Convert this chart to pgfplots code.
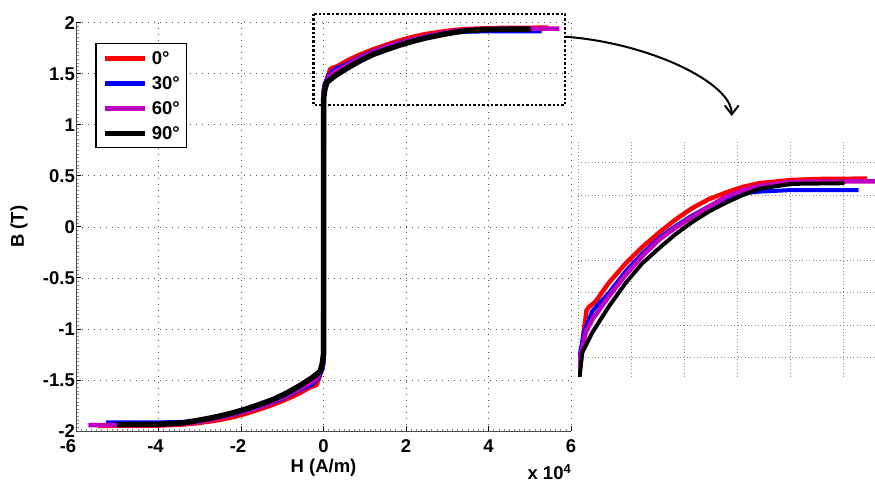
\documentclass[border=0pt]{standalone}
\usepackage{fontspec}
\setmainfont{Liberation Sans}
\usepackage{pgfplots}
\pgfplotsset{compat=1.18}
\usepackage{pgfplotstable}
\usetikzlibrary{arrows.meta}
\definecolor{mred}{rgb}{1,0,0}
\definecolor{mblue}{rgb}{0,0,1}
\definecolor{mmag}{rgb}{0.75,0,0.75}
\newcommand{\bigbf}{\fontsize{18.5}{21}\selectfont\bfseries}

\pgfplotstableread{
x y
-5.46 -1.951
-4.60 -1.950
-4.04 -1.947
-3.42 -1.937
-3.10 -1.925
-2.79 -1.908
-2.47 -1.888
-2.15 -1.860
-1.84 -1.825
-1.53 -1.785
-1.21 -1.740
-0.90 -1.690
-0.58 -1.630
-0.33 -1.572
-0.21 -1.556
-0.16 -1.545
-0.14 -1.515
-0.11 -1.485
-0.08 -1.430
-0.02 -1.354
0 -1.30
0 1.30
0.02 1.354
0.08 1.430
0.11 1.485
0.14 1.515
0.16 1.545
0.21 1.556
0.33 1.572
0.58 1.630
0.90 1.690
1.21 1.740
1.53 1.785
1.84 1.825
2.15 1.860
2.47 1.888
2.79 1.908
3.10 1.925
3.42 1.937
4.04 1.947
4.60 1.950
5.45 1.951
}\redtab

\pgfplotstableread{
x y
-5.27 -1.916
-4.04 -1.916
-3.42 -1.911
-3.10 -1.905
-2.79 -1.890
-2.47 -1.866
-2.16 -1.838
-1.84 -1.805
-1.53 -1.768
-1.21 -1.720
-0.90 -1.666
-0.585 -1.600
-0.27 -1.543
-0.11 -1.477
-0.02 -1.395
0 -1.34
0 1.34
0.02 1.395
0.11 1.477
0.27 1.543
0.585 1.600
0.90 1.666
1.21 1.720
1.53 1.768
1.84 1.805
2.16 1.838
2.47 1.866
2.79 1.890
3.10 1.905
3.42 1.911
4.04 1.916
5.29 1.916
}\bluetab

\pgfplotstableread{
x y
-5.70 -1.943
-4.04 -1.941
-3.42 -1.929
-3.10 -1.915
-2.79 -1.895
-2.47 -1.865
-2.16 -1.834
-1.84 -1.800
-1.53 -1.763
-1.21 -1.712
-0.90 -1.655
-0.585 -1.589
-0.27 -1.517
-0.145 -1.477
-0.05 -1.405
-0.01 -1.34
0.01 1.34
0.05 1.405
0.145 1.477
0.27 1.517
0.585 1.589
0.90 1.655
1.21 1.712
1.53 1.763
1.84 1.800
2.16 1.834
2.47 1.865
2.79 1.895
3.10 1.915
3.42 1.929
4.04 1.941
5.72 1.943
}\magtab

\pgfplotstableread{
x y
-5.01 -1.937
-4.04 -1.935
-3.42 -1.920
-3.10 -1.900
-2.79 -1.877
-2.47 -1.850
-2.16 -1.818
-1.84 -1.780
-1.53 -1.737
-1.21 -1.690
-0.90 -1.630
-0.585 -1.558
-0.27 -1.477
-0.08 -1.415
-0.03 -1.34
0.0 -1.25
0.0 1.25
0.03 1.34
0.08 1.415
0.27 1.477
0.585 1.558
0.90 1.630
1.21 1.690
1.53 1.737
1.84 1.780
2.16 1.818
2.47 1.850
2.79 1.877
3.10 1.900
3.42 1.920
4.04 1.935
5.02 1.937
}\blacktab

\begin{document}
\begin{tikzpicture}
\useasboundingbox (0,0) rectangle (875pt,483pt);
% zoom rectangle and arrow
\draw[line width=2.5pt, dash pattern=on 2.4pt off 2pt] (313.5pt,469pt) rectangle (565pt,378pt);
\draw[line width=2pt, -{Straight Barb[length=9pt,width=14pt]}] (565pt,446.3pt) .. controls (650pt,440pt) and (731.7pt,400pt) .. (731.7pt,367pt);

\begin{axis}[
  at={(76pt,52pt)}, anchor=south west,
  width=495pt, height=408.3pt, scale only axis,
  xmin=-6, xmax=6, ymin=-2, ymax=2,
  xtick={-6,-4,-2,0,2,4,6},
  xticklabels={\hspace*{-16pt}-6,\hspace*{-6pt}-4,\hspace*{-6pt}-2,0,2,4,6},
  ytick={-2,-1.5,-1,-0.5,0,0.5,1,1.5,2},
  yticklabels={-2,-1.5,-1,-0.5,0,0.5,1,1.5,2},
  minor x tick num=15, minor y tick num=13,
  axis lines=left, axis line style={-, line width=1pt, black!70},
  tick align=inside,
  major tick length=5pt, minor tick length=2.5pt,
  every tick/.style={black, line width=0.8pt},
  every minor tick/.style={black!45, line width=0.6pt},
  grid=major,
  major grid style={black!70, line width=0.7pt, dash pattern=on 0.8pt off 5.2pt},
  tick label style={font=\bigbf},
  xticklabel style={yshift=-5pt},
  yticklabel style={xshift=2.4pt},
  every axis x label/.style={at={(axis description cs:0.5,0)}, anchor=north, inner sep=0pt, yshift=-28pt, font=\bigbf},
  every axis y label/.style={at={(axis description cs:-0.097,0.5)}, rotate=90, anchor=south, inner sep=0pt, font=\bigbf},
  xlabel={H (A/m)}, ylabel={B (T)},
  legend style={at={(rel axis cs:0.0384,0.9503)}, anchor=north west, draw=black, line width=1.5pt,
    font=\bigbf, inner xsep=7pt, inner ysep=8pt, row sep=12pt, column sep=4pt,
    nodes={inner sep=0pt, text height=13pt, text depth=0pt}},
  legend cell align=left,
  legend image code/.code={\draw[#1, line width=5pt] (0pt,0pt) -- (40pt,0pt);},
  clip=false,
]
\addplot[mred, line width=4.5pt, line join=round] table[x=x,y=y] {\redtab};
\addplot[mblue, line width=4pt, line join=round] table[x=x,y=y] {\bluetab};
\addplot[mmag, line width=4.5pt, line join=round] table[x=x,y=y] {\magtab};
\addplot[black, line width=5.5pt, line join=round] table[x=x,y=y] {\blacktab};
\legend{0°,30°,60°,90°}
\node[anchor=north east, inner sep=0pt, font=\bigbf] at (rel axis cs:1,0) [yshift=-33pt] {x 10\raisebox{6pt}{\fontsize{13}{13}\selectfont 4}};
\end{axis}

\begin{axis}[
  at={(578pt,106pt)}, anchor=south west,
  width=297pt, height=236pt, scale only axis,
  xmin=0, xmax=5.6, ymin=1.34, ymax=2.067,
  xtick={0,1,2,3,4,5}, ytick={1.4,1.5,1.6,1.7,1.8,1.9,2.0},
  xticklabels={}, yticklabels={},
  axis line style={draw=none}, tick style={draw=none},
  grid=major,
  major grid style={black!45, line width=0.7pt, dash pattern=on 0.8pt off 2.6pt},
]
\addplot[mred, line width=4.5pt, line join=round] table[x=x,y=y] {\redtab};
\addplot[mblue, line width=4pt, line join=round] table[x=x,y=y] {\bluetab};
\addplot[mmag, line width=4.5pt, line join=round] table[x=x,y=y] {\magtab};
\addplot[black, line width=4pt, line join=round] table[x=x,y=y] {\blacktab};
\end{axis}
\end{tikzpicture}
\end{document}
